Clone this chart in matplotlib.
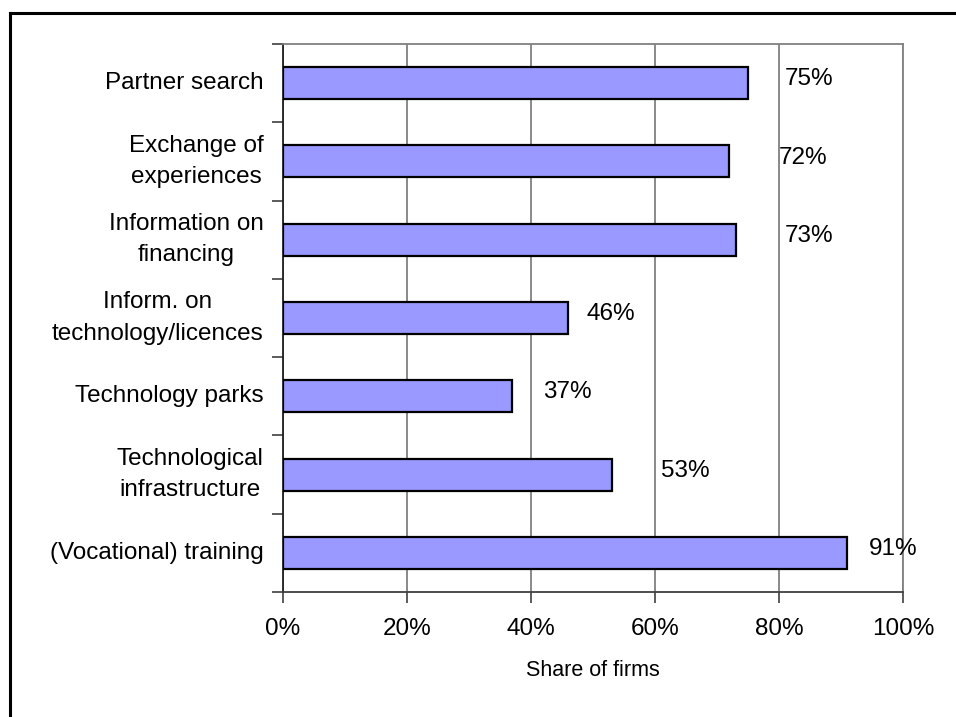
import numpy as np
import matplotlib.pyplot as plt
from matplotlib.lines import Line2D
from matplotlib.ticker import PercentFormatter

plt.rcParams['font.family'] = ['Liberation Sans', 'DejaVu Sans']

categories = ['Partner search', 'Exchange of\nexperiences', 'Information on\nfinancing',
              'Inform. on\ntechnology/licences', 'Technology parks',
              'Technological\ninfrastructure', '(Vocational) training']
shares = [0.75, 0.72, 0.73, 0.46, 0.37, 0.53, 0.91]
labels = ['75%', '72%', '73%', '46%', '37%', '53%', '91%']
# gap between bar end and its label (the original is irregular)
label_gap = [0.06, 0.08, 0.08, 0.03, 0.05, 0.08, 0.035]

fig = plt.figure(figsize=(9.56, 7.17), dpi=100)
ax = fig.add_axes([283/956, 1-592/717, 620/956, 548/717])

y = np.arange(len(categories))
ax.barh(y, shares, height=0.41, color='#9999FF', edgecolor='black', linewidth=1.6, zorder=3)

for yi, v, lab, g in zip(y, shares, labels, label_gap):
    ax.text(v + g, yi - 0.05, lab, va='center', ha='left', fontsize=17.5, zorder=4)

ax.set_xlim(0, 1)
ax.set_ylim(len(categories) - 0.5, -0.5)
ax.set_xticks(np.arange(0, 1.01, 0.2))
ax.xaxis.set_major_formatter(PercentFormatter(1.0, decimals=0))
ax.grid(axis='x', color='#808080', linewidth=1.3, zorder=1)

ax.set_yticks(y)
ax.set_yticklabels(categories, multialignment='center', linespacing=1.55)
for lbl in ax.get_yticklabels():
    lbl.set_va('center')
ax.set_yticks(np.arange(-0.5, len(categories)), minor=True)
ax.tick_params(axis='y', which='major', length=0, pad=14, labelsize=17.5)
ax.tick_params(axis='y', which='minor', length=8, width=1.2, color='#404040')
ax.tick_params(axis='x', length=8, width=1.2, color='#404040', pad=11, labelsize=17.5)

ax.set_xlabel('Share of firms', fontsize=15.5, labelpad=14)

for s in ['top', 'right']:
    ax.spines[s].set_color('#808080')
    ax.spines[s].set_linewidth(1.3)
ax.spines['bottom'].set_color('#404040')
ax.spines['bottom'].set_linewidth(1.3)
ax.spines['left'].set_color('#202020')
ax.spines['left'].set_linewidth(1.3)

# outer frame of the chart (only left and top are visible)
fig.add_artist(Line2D([10/956, 10/956], [0, 1-13/717], color='black', linewidth=2.2, transform=fig.transFigure))
fig.add_artist(Line2D([10/956, 1], [1-13/717, 1-13/717], color='black', linewidth=2.2, transform=fig.transFigure))

fig.savefig('out.png', dpi=100)
